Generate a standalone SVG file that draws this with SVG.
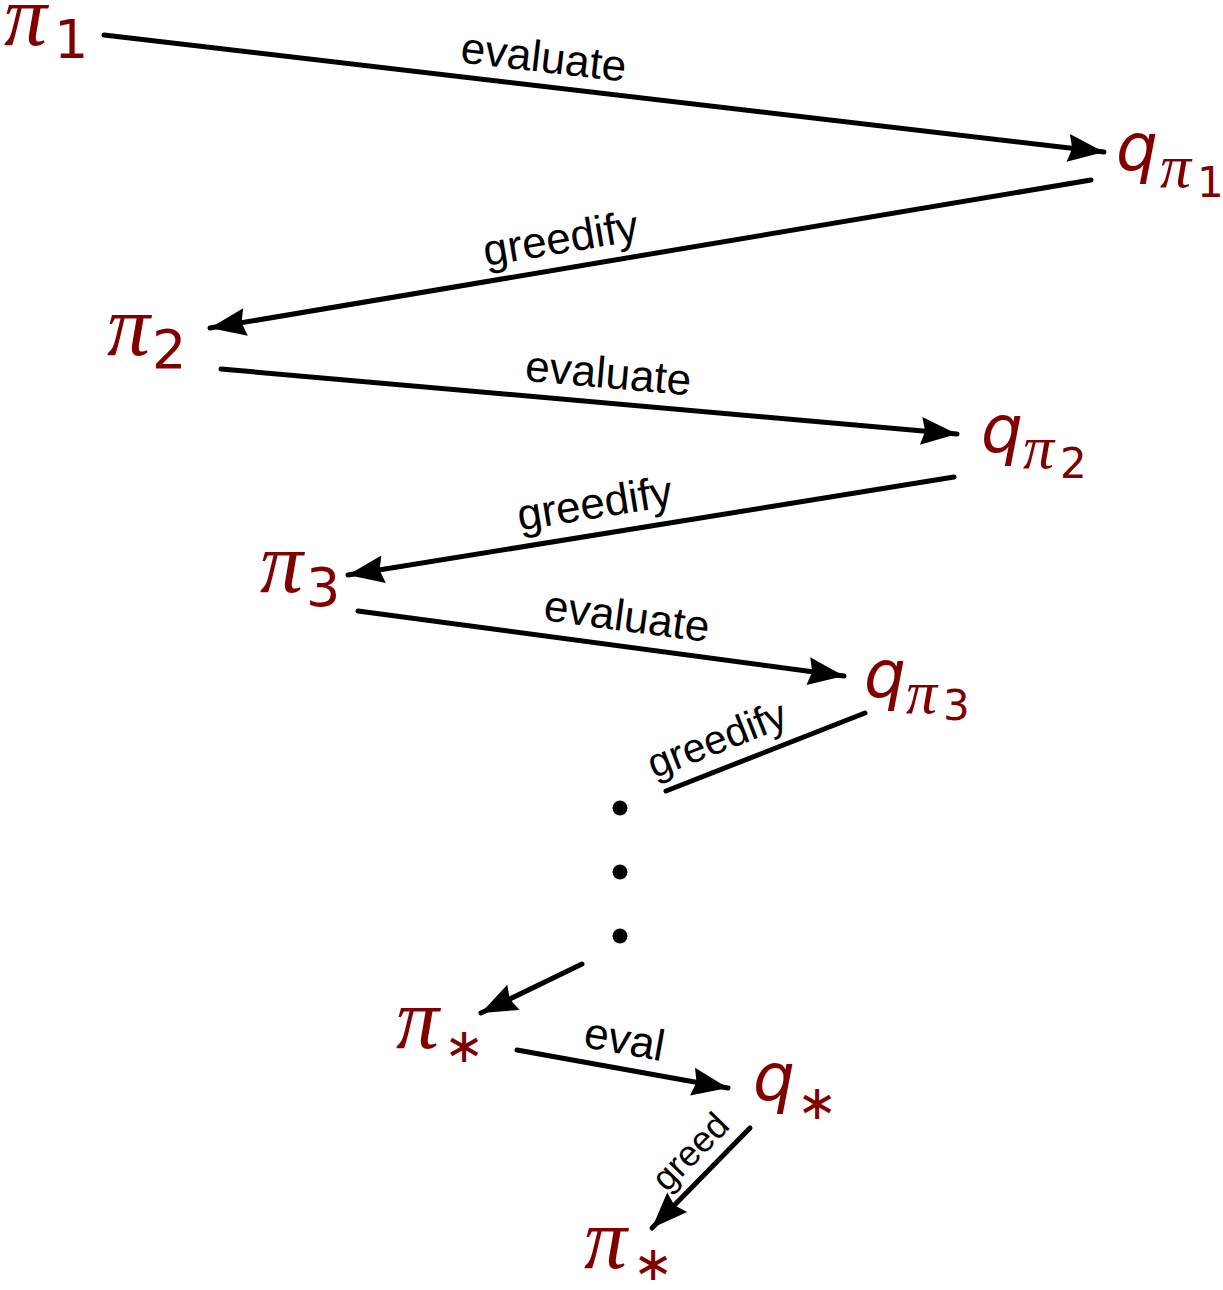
<svg xmlns="http://www.w3.org/2000/svg" width="1223" height="1290" viewBox="0 0 1223 1290">
<style>
.m{fill:#800000;font-family:"DejaVu Sans",sans-serif}
.pi{font-family:"Liberation Serif",serif;font-style:italic;font-size:86px}
.q{font-size:66px;font-style:italic}
.sp{font-family:"Liberation Serif",serif;font-style:italic;font-size:62px}
.d{font-size:54px}
.sd{font-size:42px}
.st{font-size:48px}
.lbl{font-family:"Liberation Sans",Arial,sans-serif;font-size:44px;fill:#000;text-anchor:middle}
.e{stroke:#000;stroke-width:5;stroke-linecap:round;fill:none}
</style>
<defs>
<marker id="ah" markerUnits="userSpaceOnUse" markerWidth="50" markerHeight="40" viewBox="-40 -20 50 40" refX="0" refY="0" orient="auto">
<path d="M0,0 L-36,-14 L-32,0 L-36,14 Z" fill="#000"/>
</marker>
</defs>
<g id="n-pi1"><text class="m pi" x="4" y="45">π</text><text class="m d" x="54" y="58">1</text></g>
<g id="n-qpi1"><text class="m q" x="1116" y="170">q</text><text class="m sp" x="1160" y="187">π</text><text class="m sd" x="1197" y="197">1</text></g>
<g id="n-pi2"><text class="m pi" x="107" y="355">π</text><text class="m d" x="152" y="368">2</text></g>
<g id="n-qpi2"><text class="m q" x="981" y="452">q</text><text class="m sp" x="1023" y="468">π</text><text class="m sd" x="1060" y="478">2</text></g>
<g id="n-pi3"><text class="m pi" x="260" y="592">π</text><text class="m d" x="306" y="606">3</text></g>
<g id="n-qpi3"><text class="m q" x="864" y="697">q</text><text class="m sp" x="906" y="713">π</text><text class="m sd" x="943" y="720">3</text></g>
<g id="n-pistar1"><text class="m pi" x="396" y="1048">π</text><text class="m st" x="444" y="1062">∗</text></g>
<g id="n-qstar"><text class="m q" x="753" y="1100">q</text><text class="m st" x="797" y="1119">∗</text></g>
<g id="n-pistar2"><text class="m pi" x="584" y="1268">π</text><text class="m st" x="633" y="1280">∗</text></g>
<g id="dots" fill="#000"><circle cx="620" cy="808" r="7.5"/><circle cx="620" cy="872" r="7.5"/><circle cx="620" cy="936" r="7.5"/></g>
<g id="connectors">
<line class="e" x1="104" y1="35" x2="1104" y2="152" marker-end="url(#ah)"/>
<line class="e" x1="1091" y1="180" x2="210" y2="328" marker-end="url(#ah)"/>
<line class="e" x1="221" y1="369" x2="957" y2="434" marker-end="url(#ah)"/>
<line class="e" x1="954" y1="477" x2="348" y2="575" marker-end="url(#ah)"/>
<line class="e" x1="358" y1="611" x2="844" y2="676" marker-end="url(#ah)"/>
<line class="e" x1="865" y1="713" x2="666" y2="791"/>
<line class="e" x1="582" y1="964" x2="481" y2="1013" marker-end="url(#ah)"/>
<line class="e" x1="517" y1="1050" x2="728" y2="1088" marker-end="url(#ah)"/>
<line class="e" x1="750" y1="1128" x2="652" y2="1228" marker-end="url(#ah)"/>
<text class="lbl" x="542" y="72" transform="rotate(6.68 542 72)">evaluate</text>
<text class="lbl" x="563" y="253" transform="rotate(-9.54 563 253)">greedify</text>
<text class="lbl" x="607" y="388" transform="rotate(5.05 607 388)">evaluate</text>
<text class="lbl" x="597" y="518" transform="rotate(-9.19 597 518)">greedify</text>
<text class="lbl" x="625" y="631" transform="rotate(7.62 625 631)">evaluate</text>
<text class="lbl" x="722" y="752" transform="rotate(-21.4 722 752)" style="font-size:41px">greedify</text>
<text class="lbl" x="622" y="1054" transform="rotate(10.2 622 1054)">eval</text>
<text class="lbl" x="699" y="1160" transform="rotate(-45.6 699 1160)" style="font-size:36px">greed</text>
</g>
</svg>
